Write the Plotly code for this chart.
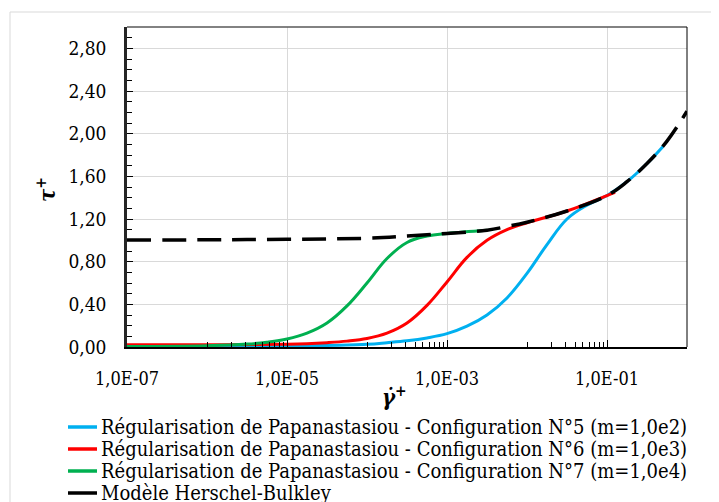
import plotly.graph_objects as go

# ---- data ----
hb_x = [1e-7, 1e-6, 1e-5, 1e-4, 10**-3.5, 1e-3, 10**-2.5, 10**-2.25, 1e-2, 10**-1.5, 1e-1, 10**-0.75, 10**-0.5, 10**-0.25, 1.0]
hb_y = [1.003, 1.005, 1.01, 1.02, 1.04, 1.065, 1.095, 1.13, 1.17, 1.275, 1.42, 1.55, 1.72, 1.93, 2.21]

blue_x = [1e-7, 1e-6, 1e-5, 1e-4, 10**-3.75, 10**-3.5, 10**-3.25, 1e-3, 10**-2.75, 10**-2.5, 10**-2.25, 1e-2,
          10**-1.75, 10**-1.5, 10**-1.25, 1e-1, 10**-0.75, 10**-0.5, 10**-0.3]
blue_y = [0.002, 0.003, 0.008, 0.025, 0.04, 0.058, 0.085, 0.125, 0.195, 0.30, 0.46, 0.69,
          0.96, 1.20, 1.33, 1.42, 1.55, 1.72, 1.88]

red_x = [1e-7, 1e-6, 1e-5, 10**-4.75, 10**-4.5, 10**-4.25, 1e-4, 10**-3.75, 10**-3.5, 10**-3.25, 1e-3,
         10**-2.75, 10**-2.5, 10**-2.25, 1e-2, 10**-1.5, 1e-1, 10**-0.9]
red_y = [0.02, 0.02, 0.025, 0.03, 0.04, 0.055, 0.08, 0.13, 0.225, 0.39, 0.61,
         0.84, 1.00, 1.10, 1.165, 1.275, 1.42, 1.45]

green_x = [1e-7, 1e-6, 10**-5.5, 10**-5.25, 1e-5, 10**-4.75, 10**-4.5, 10**-4.25, 1e-4,
           10**-3.75, 10**-3.5, 10**-3.25, 1e-3, 10**-2.5]
green_y = [0.005, 0.012, 0.027, 0.045, 0.075, 0.13, 0.225, 0.385, 0.60,
           0.83, 0.98, 1.04, 1.065, 1.095]

names = [
    "Régularisation de Papanastasiou - Configuration N°5 (m=1,0e2)",
    "Régularisation de Papanastasiou - Configuration N°6 (m=1,0e3)",
    "Régularisation de Papanastasiou - Configuration N°7 (m=1,0e4)",
    "Modèle Herschel-Bulkley",
]
colors = ["#00B0F0", "#FF0000", "#00B050", "#000000"]

x_tickvals = [1e-7, 1e-5, 1e-3, 1e-1]
x_ticktext = ["1,0E-07", "1,0E-05", "1,0E-03", "1,0E-01"]
y_tickvals = [0.0, 0.4, 0.8, 1.2, 1.6, 2.0, 2.4, 2.8]
y_ticktext = ["0,00", "0,40", "0,80", "1,20", "1,60", "2,00", "2,40", "2,80"]
x_minor = [k * 10.0 ** e for e in (-6, -4, -2) for k in range(1, 10)]

FONT = "DejaVu Serif Condensed, Liberation Serif, serif"

# page offset (default body margin) and plot area geometry in page px
OFF = 8
W, H = 719 - OFF, 502 - OFF
PL, PR, PT, PB = 127, 687, 27, 347          # plot area edges in page px
L, T = PL - OFF, PT - OFF
R, B = W - (PR - OFF), H - (PB - OFF)
PW, PH = PR - PL, PB - PT

def px_x(p):
    return (p - PL) / PW

def px_y(p):
    return (PB - p) / PH

fig = go.Figure()
series = [(blue_x, blue_y), (red_x, red_y), (green_x, green_y), (hb_x, hb_y)]
for i, (xs, ys) in enumerate(series):
    line = dict(color=colors[i], width=3, shape="spline", smoothing=1.1)
    if i == 3:
        line.update(width=3.5, dash="24px,11px")
    fig.add_trace(go.Scatter(x=xs, y=ys, mode="lines", name=names[i], line=line,
                             showlegend=False))

shapes = [
    dict(type="line", xref="paper", yref="paper", x0=0, x1=1, y0=1, y1=1,
         line=dict(color="#595959", width=1.5)),
    dict(type="line", xref="paper", yref="paper", x0=1, x1=1, y0=0, y1=1,
         line=dict(color="#000000", width=1)),
    dict(type="line", xref="paper", yref="paper", x0=px_x(10), x1=px_x(760), y0=px_y(12), y1=px_y(12),
         line=dict(color="#D9D9D9", width=1)),
    dict(type="line", xref="paper", yref="paper", x0=px_x(10), x1=px_x(10), y0=px_y(12), y1=px_y(560),
         line=dict(color="#D9D9D9", width=1)),
]
annotations = [
    dict(text="<b><i>τ<sup>+</sup></i></b>", xref="paper", yref="paper",
         x=px_x(30), y=px_y(190), textangle=-90, showarrow=False,
         font=dict(size=22, family=FONT, color="#000000")),
    dict(text="<b><i>γ̇<sup>+</sup></i></b>", xref="paper", yref="paper",
         x=px_x(394), y=px_y(412), showarrow=False,
         font=dict(size=22, family=FONT, color="#000000")),
]
# legend rows drawn as sample lines + text, spaced like the reference
row_y = [427, 449, 471, 493]
for i in range(4):
    shapes.append(dict(type="line", xref="paper", yref="paper",
                       x0=px_x(68), x1=px_x(97), y0=px_y(row_y[i]), y1=px_y(row_y[i]),
                       line=dict(color=colors[i], width=3.5)))
    annotations.append(dict(text=names[i], xref="paper", yref="paper",
                            x=px_x(99), y=px_y(row_y[i]), xanchor="left", yanchor="middle",
                            showarrow=False,
                            font=dict(size=20, family=FONT, color="#000000")))

fig.update_layout(
    width=W, height=H,
    margin=dict(l=L, r=R, t=T, b=B, autoexpand=False),
    paper_bgcolor="white", plot_bgcolor="white",
    font=dict(family=FONT, size=18, color="#000000"),
    showlegend=False,
    xaxis=dict(type="log", range=[-7, 0], tickvals=x_tickvals, ticktext=x_ticktext,
               showgrid=True, gridcolor="#D9D9D9", gridwidth=1,
               showline=True, linecolor="#000000", linewidth=2,
               ticks="inside", ticklen=7, tickcolor="#000000", tickwidth=1,
               ticklabelstandoff=14,
               tickfont=dict(size=18, family=FONT), zeroline=False,
               minor=dict(tickvals=x_minor, ticks="inside", ticklen=5, tickcolor="#000000", showgrid=False)),
    yaxis=dict(range=[0, 3.0], tickvals=y_tickvals, ticktext=y_ticktext,
               showgrid=True, gridcolor="#D9D9D9", gridwidth=1,
               showline=True, linecolor="#262626", linewidth=2.5,
               ticks="inside", ticklen=6, tickcolor="#000000", tickwidth=1,
               ticklabelstandoff=14,
               tickfont=dict(size=19, family=FONT), zeroline=False,
               minor=dict(dtick=0.1, ticks="inside", ticklen=5, tickcolor="#000000", showgrid=False)),
    shapes=shapes,
    annotations=annotations,
)

fig.write_html("out.html")
